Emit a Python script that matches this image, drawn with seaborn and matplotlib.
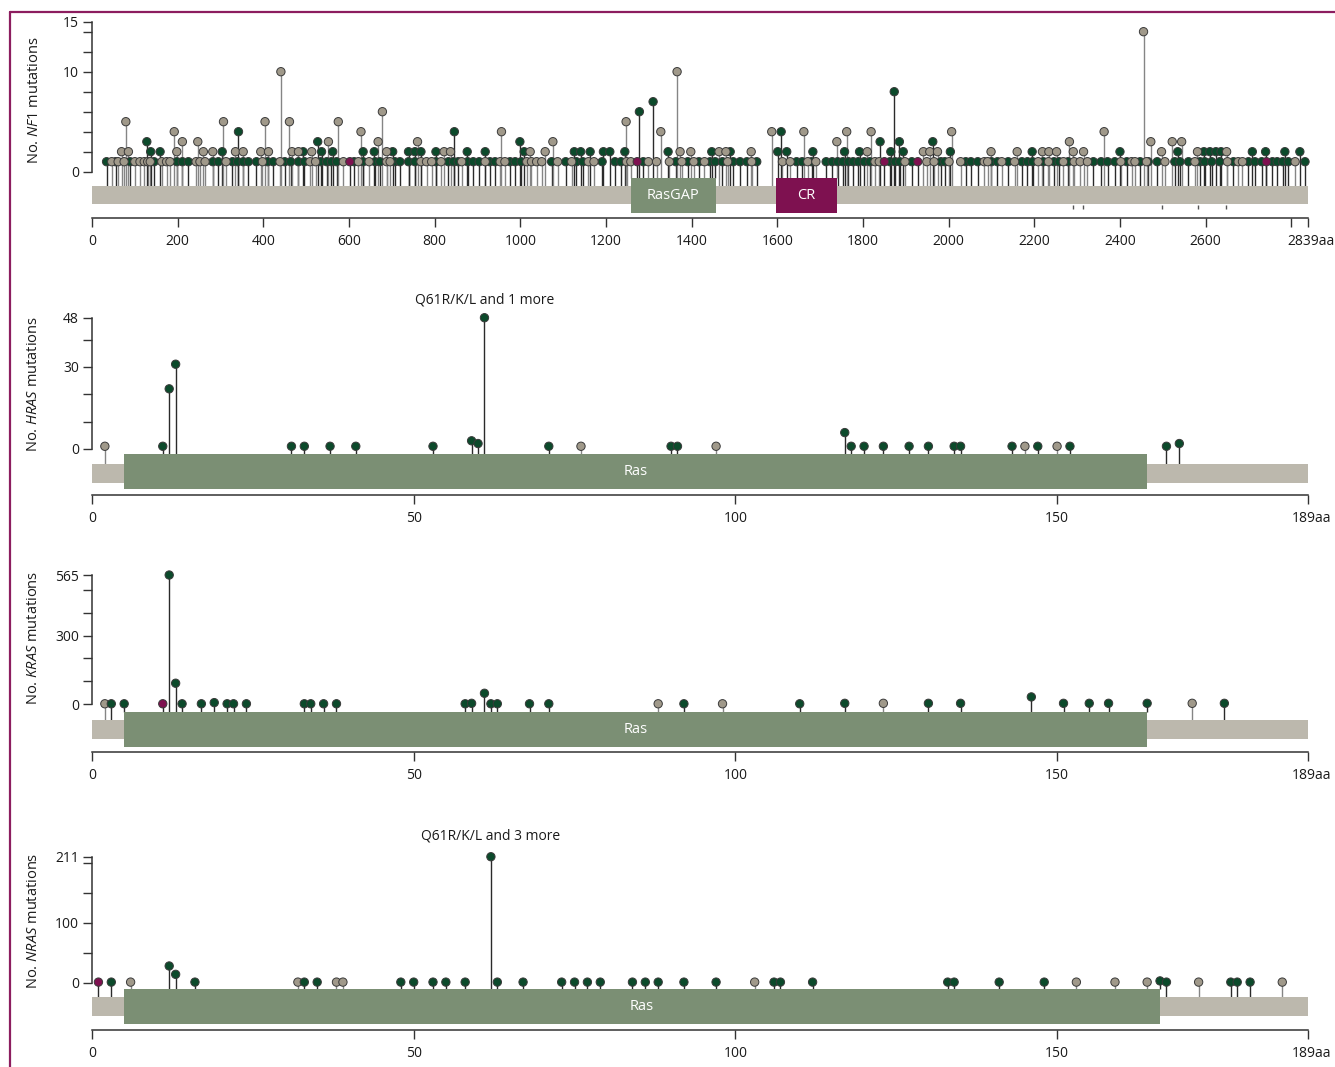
import numpy as np
import pandas as pd
import matplotlib
matplotlib.use("Agg")
import matplotlib.pyplot as plt
from matplotlib.patches import Rectangle
from matplotlib.lines import Line2D
from matplotlib.transforms import ScaledTranslation
import seaborn as sns

# # # # # data # # # # #

# NF1 positions (aa) split by mutation count and dot colour
nf1_mis_c1 = [34, 55, 89, 145, 198, 211, 225, 282, 295, 328, 340, 353, 365, 384, 410, 423, 450, 464, 482,
	496, 534, 548, 559, 571, 612, 633, 661, 672, 707, 719, 739, 754, 803, 832, 844, 855, 877, 890, 904,
	929, 941, 976, 988, 1002, 1073, 1106, 1131, 1146, 1191, 1221, 1235, 1287, 1363, 1391, 1417, 1443,
	1455, 1472, 1497, 1513, 1529, 1552, 1645, 1658, 1680, 1714, 1728, 1741, 1753, 1766, 1777, 1789,
	1803, 1816, 1863, 1875, 1886, 1914, 1982, 1991, 2040, 2052, 2068, 2100, 2114, 2139, 2171, 2184,
	2196, 2221, 2246, 2258, 2279, 2338, 2356, 2371, 2388, 2416, 2447, 2466, 2487, 2528, 2540, 2560,
	2587, 2598, 2614, 2633, 2665, 2700, 2715, 2731, 2756, 2767, 2780, 2793, 2832]
nf1_trn_c1 = [46, 61, 75, 100, 112, 122, 130, 136, 163, 174, 182, 243, 252, 264, 313, 398, 439, 509, 522,
	587, 622, 647, 688, 696, 768, 781, 793, 815, 863, 918, 953, 964, 1015, 1026, 1038, 1050, 1087, 1120,
	1159, 1172, 1248, 1258, 1299, 1318, 1348, 1377, 1405, 1430, 1484, 1540, 1612, 1630, 1671, 1690,
	1828, 1838, 1898, 1949, 1966, 2001, 2028, 2083, 2091, 2124, 2154, 2209, 2233, 2268, 2293, 2307,
	2324, 2402, 2427, 2435, 2462, 2505, 2575, 2651, 2676, 2686, 2809]
nf1_inf_c1 = [602, 1273, 1850, 1928, 2742]
nf1_mis_c2 = [137, 159, 304, 493, 536, 562, 633, 659, 702, 739, 754, 768, 803, 876, 918, 1009, 1126,
	1141, 1163, 1194, 1209, 1244, 1345, 1447, 1490, 1601, 1622, 1683, 1757, 1792, 1865, 1894, 2004,
	2195, 2400, 2535, 2596, 2610, 2624, 2636, 2709, 2740, 2785, 2820]
nf1_trn_c2 = [69, 85, 198, 260, 282, 335, 353, 394, 412, 467, 482, 513, 688, 822, 837, 1023, 1058, 1373,
	1398, 1464, 1480, 1539, 1810, 1941, 1956, 1974, 2099, 2160, 2219, 2234, 2252, 2291, 2315, 2497,
	2581, 2649]
nf1_mis_c3 = [128, 527, 999, 1840, 1885, 1963]
nf1_trn_c3 = [211, 247, 552, 668, 760, 1076, 1739, 2282, 2472, 2522, 2544]
nf1_mis_c4 = [342, 846, 1609]
nf1_trn_c4 = [192, 628, 956, 1328, 1587, 1662, 1762, 1819, 2007, 2363]
nf1_trn_c5 = [79, 307, 404, 461, 575, 1247]
nf1_trn_c6 = [678]
nf1_mis_c6 = [1278]
nf1_mis_c7 = [1310]
nf1_mis_c8 = [1873]
nf1_trn_c10 = [441, 1366]
nf1_trn_c14 = [2455]
nf1_marks = [2291, 2313, 2497, 2583, 2647] # small marks under the NF1 bar

# HRAS
hras_pos = [2, 11, 12, 13, 31, 33, 37, 41, 53, 59, 60, 61, 71, 76, 90, 91, 97, 117, 118, 120, 123, 127,
	130, 134, 135, 143, 145, 147, 150, 152, 167, 169]
hras_cnt = [1, 1, 22, 31, 1, 1, 1, 1, 1, 3, 2, 48, 1, 1, 1, 1, 1, 6, 1, 1, 1, 1,
	1, 1, 1, 1, 1, 1, 1, 1, 1, 2]
hras_kind = ["T", "G", "G", "G", "G", "G", "G", "G", "G", "G", "G", "G", "G", "T", "G", "G", "T", "G", "G", "G", "G", "G",
	"G", "G", "G", "G", "T", "G", "T", "G", "G", "G"]

# KRAS
kras_pos = [2, 3, 5, 11, 12, 13, 14, 17, 19, 21, 22, 24, 33, 34, 36, 38, 58, 59, 61, 62, 63, 68, 71,
	88, 92, 98, 110, 117, 123, 130, 135, 146, 151, 155, 158, 164, 171, 176]
kras_cnt = [1, 1, 1, 1, 565, 91, 1, 1, 6, 1, 1, 1, 1, 1, 1, 1, 1, 3, 47, 1, 1, 1, 1,
	1, 1, 1, 1, 3, 3, 3, 3, 31, 3, 3, 3, 3, 3, 3]
kras_kind = ["T", "G", "G", "M", "G", "G", "G", "G", "G", "G", "G", "G", "G", "G", "G", "G", "G", "G", "G", "G", "G", "G", "G",
	"T", "G", "T", "G", "G", "T", "G", "G", "G", "G", "G", "G", "G", "T", "G"]

# NRAS
nras_pos = [1, 3, 6, 12, 13, 16, 32, 33, 35, 38, 39, 48, 50, 53, 55, 58, 62, 63, 67, 73, 75, 77, 79, 84,
	86, 88, 92, 97, 103, 106, 107, 112, 133, 134, 141, 148, 153, 159, 164, 166, 167, 172, 177, 178, 180, 185]
nras_cnt = [1, 1, 1, 28, 14, 1, 1, 1, 1, 1, 1, 1, 1, 1, 1, 1, 211, 1, 1, 1, 1, 1, 1, 1,
	1, 1, 1, 1, 1, 1, 1, 1, 1, 1, 1, 1, 1, 1, 1, 3, 1, 1, 1, 1, 1, 1]
nras_kind = ["M", "G", "T", "G", "G", "G", "T", "G", "G", "T", "T", "G", "G", "G", "G", "G", "G", "G", "G", "G", "G", "G", "G", "G",
	"G", "G", "G", "G", "T", "G", "G", "G", "G", "G", "G", "G", "T", "T", "T", "G", "G", "T", "G", "G", "G", "T"]

# protein lengths and domains (name, start, end, colour key)
NF1_LEN = 2839
RAS_LEN = 189
NF1_DOMAINS = [("RasGAP", 1258, 1457, "green"), ("CR", 1597, 1739, "maroon")]
HRAS_DOMAINS = [("Ras", 5, 164, "green")]
KRAS_DOMAINS = [("Ras", 5, 164, "green")]
NRAS_DOMAINS = [("Ras", 5, 166, "green")]

# # # # # style # # # # #

W, H = 1335, 1067
X0, X1 = 92, 1308

DOT_COLS = {"G": "#0c4a2b", "T": "#a0998a", "M": "#7e1150"}
STICK_COLS = {"G": "#2a2a2a", "T": "#858585", "M": "#2a2a2a"}
DOM_COLS = {"green": "#7b8f74", "maroon": "#7e1150"}
BAR_COL = "#bcb8ad"
FRAME_COL = "#8c1d5f"
AX_COL = "#333333"

sns.set_theme(style="white")
plt.rcParams["font.family"] = ["Open Sans", "DejaVu Sans"]
plt.rcParams["mathtext.fontset"] = "custom"
plt.rcParams["mathtext.rm"] = "Open Sans"
plt.rcParams["mathtext.it"] = "Open Sans:italic"


def nf1_frame():
	parts = [(nf1_mis_c1, 1, "G"), (nf1_trn_c1, 1, "T"), (nf1_inf_c1, 1, "M"),
		(nf1_mis_c2, 2, "G"), (nf1_trn_c2, 2, "T"), (nf1_mis_c3, 3, "G"), (nf1_trn_c3, 3, "T"),
		(nf1_mis_c4, 4, "G"), (nf1_trn_c4, 4, "T"), (nf1_trn_c5, 5, "T"), (nf1_trn_c6, 6, "T"),
		(nf1_mis_c6, 6, "G"), (nf1_mis_c7, 7, "G"), (nf1_mis_c8, 8, "G"), (nf1_trn_c10, 10, "T"),
		(nf1_trn_c14, 14, "T")]
	frames = [pd.DataFrame({"pos": p, "count": c, "kind": k}) for p, c, k in parts]
	return pd.concat(frames, ignore_index=True)


def draw_panel(fig, df, length, domains, geom, yticks, yminor, gene, xticks, xlabels, ylab_y, annot=None):

	zero, ppu = geom["zero"], geom["ppu"]
	cnt = lambda px: (zero - px) / ppu  # pixel row -> count units

	ax = fig.add_axes([X0 / W, 1 - geom["dom_bot"] / H, (X1 - X0) / W, (geom["dom_bot"] - geom["top"]) / H])
	ax.set_xlim(0, length)
	ax.set_ylim(cnt(geom["dom_bot"]), cnt(geom["top"]))

	# grey protein bar and domains
	ax.add_patch(Rectangle((0, cnt(geom["bar_bot"])), length, cnt(geom["bar_top"]) - cnt(geom["bar_bot"]),
		facecolor=BAR_COL, edgecolor="none", zorder=2))
	for name, s, e, col in domains:
		ax.add_patch(Rectangle((s, cnt(geom["dom_bot"])), e - s, cnt(geom["dom_top"]) - cnt(geom["dom_bot"]),
			facecolor=DOM_COLS[col], edgecolor="none", zorder=2.5))
		ax.text((s + e) / 2, (cnt(geom["dom_top"]) + cnt(geom["dom_bot"])) / 2, name, ha="center",
			va="center", color="white", fontsize=10.5, zorder=3)

	# sticks
	in_dom = np.zeros(len(df), dtype=bool)
	for name, s, e, col in domains:
		in_dom |= (df["pos"].values >= s) & (df["pos"].values <= e)
	bottoms = np.where(in_dom, cnt(geom["dom_top"]), cnt(geom["bar_top"]))
	ax.vlines(df["pos"], bottoms, df["count"], colors=[STICK_COLS[k] for k in df["kind"]], lw=1, zorder=1.5)

	# dots
	sns.scatterplot(data=df, x="pos", y="count", hue="kind", palette=DOT_COLS, s=36, edgecolor="#3a3a3a",
		linewidth=0.7, legend=False, ax=ax, zorder=4, clip_on=False)

	if "marks" in geom:
		ax.vlines(geom["marks"], cnt(geom["bar_bot"] + 1), cnt(geom["bar_bot"] + 5), colors="#555555", lw=1, zorder=1)

	# axes styling
	sns.despine(ax=ax)
	ax.spines["left"].set_bounds(0, yticks[-1])
	ax.spines["bottom"].set_position(("outward", (geom["axis"] - geom["dom_bot"]) * 0.72))
	for sp in ("left", "bottom"):
		ax.spines[sp].set_color(AX_COL)
		ax.spines[sp].set_linewidth(1.1)
	ax.set_yticks(yticks)
	ax.set_yticks(yminor, minor=True)
	ax.set_yticklabels([str(t) for t in yticks])
	ax.set_xticks(xticks)
	ax.set_xticklabels(xlabels)
	ax.tick_params(axis="both", which="both", direction="out", length=6.5, width=1, colors=AX_COL,
		labelcolor="#1a1a1a", labelsize=10)
	ax.tick_params(axis="y", which="both", left=True, pad=3)
	ax.tick_params(axis="x", bottom=True, pad=5)
	ax.set_xlabel("")
	ax.set_ylabel("")

	# push the "aa" end label so the number sits on its tick
	last = ax.get_xticklabels()[-1]
	last.set_transform(last.get_transform() + ScaledTranslation(0.035, 0, fig.dpi_scale_trans))

	fig.text(34 / W, 1 - ylab_y / H, r"No. $\mathit{" + gene + r"}$ mutations", rotation=90,
		ha="center", va="center", fontsize=10.5, color="#1a1a1a")

	if annot is not None:
		text, x, y, off = annot
		ax.annotate(text, xy=(x, y), xytext=(0, off), textcoords="offset points", ha="center",
			va="center", fontsize=10, color="#1a1a1a", annotation_clip=False)

	return ax


# # # # # figure # # # # #

fig = plt.figure(figsize=(W / 100, H / 100), dpi=100)

nf1_ticks = list(range(0, 2801, 200)) + [NF1_LEN]
nf1_labels = [str(t) for t in range(0, 2601, 200)] + ["", "2839aa"]
ras_ticks = [0, 50, 100, 150, RAS_LEN]
ras_labels = ["0", "50", "100", "150", "189aa"]

draw_panel(fig, nf1_frame(), NF1_LEN, NF1_DOMAINS,
	dict(zero=171.7, ppu=10.0, top=18, bar_top=185.7, bar_bot=204.3, dom_top=177.7, dom_bot=212.7,
		axis=218.3, marks=nf1_marks),
	[0, 10, 15], [2, 4, 6, 8, 12, 14], "NF1", nf1_ticks, nf1_labels, 100)

draw_panel(fig, pd.DataFrame({"pos": hras_pos, "count": hras_cnt, "kind": hras_kind}), RAS_LEN, HRAS_DOMAINS,
	dict(zero=449, ppu=2.735, top=312, bar_top=464, bar_bot=482.7, dom_top=454, dom_bot=489, axis=495),
	[0, 30, 48], [10, 20, 40], "HRAS", ras_ticks, ras_labels, 384,
	annot=("Q61R/K/L and 1 more", 61, 48, 13))

draw_panel(fig, pd.DataFrame({"pos": kras_pos, "count": kras_cnt, "kind": kras_kind}), RAS_LEN, KRAS_DOMAINS,
	dict(zero=704, ppu=0.2283, top=569, bar_top=720, bar_bot=739, dom_top=712.3, dom_bot=746.7, axis=752.3),
	[0, 300, 565], [100, 200, 400, 500], "KRAS", ras_ticks, ras_labels, 638)

draw_panel(fig, pd.DataFrame({"pos": nras_pos, "count": nras_cnt, "kind": nras_kind}), RAS_LEN, NRAS_DOMAINS,
	dict(zero=982.7, ppu=0.597, top=851, bar_top=996.7, bar_bot=1016, dom_top=989, dom_bot=1024, axis=1030),
	[0, 100, 211], [50, 150, 200], "NRAS", ras_ticks, ras_labels, 921,
	annot=("Q61R/K/L and 3 more", 62, 211, 15))

# maroon frame on the left and top edges
fig.add_artist(Line2D([10 / W, 10 / W], [0, 1 - 11.5 / H], color=FRAME_COL, lw=1.6))
fig.add_artist(Line2D([10 / W, 1], [1 - 11.5 / H, 1 - 11.5 / H], color=FRAME_COL, lw=1.6))

fig.savefig("out.png", dpi=100, facecolor="white")
